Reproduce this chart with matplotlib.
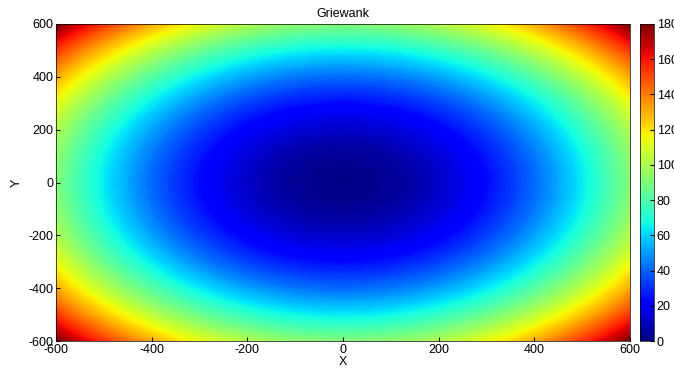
import numpy as np
import matplotlib
matplotlib.use("Agg")
import matplotlib.pyplot as plt

plt.rcParams['font.family'] = ['Liberation Sans', 'DejaVu Sans']
plt.rcParams['axes.unicode_minus'] = False

title = "Griewank"
x_label = "X"
y_label = "Y"
x_range = [-600, 600]
y_range = [-600, 600]
x_ticks = [-600, -400, -200, 0, 200, 400, 600]
y_ticks = [-600, -400, -200, 0, 200, 400, 600]
cbar_ticks = [0, 20, 40, 60, 80, 100, 120, 140, 160, 180]
n_grid = 601

xs = np.linspace(x_range[0], x_range[1], n_grid)
ys = np.linspace(y_range[0], y_range[1], n_grid)
X, Y = np.meshgrid(xs, ys)
Z = 1 + (X**2 + Y**2) / 4000.0 - np.cos(X / np.sqrt(1)) * np.cos(Y / np.sqrt(2))

fig = plt.figure(figsize=(6.74, 3.72), dpi=100)
ax = fig.add_axes([56/674, 1 - 341/372, (630-56)/674, (341-24)/372])
cax = fig.add_axes([640/674, 1 - 341/372, 14/674, (341-24)/372])

levels = np.linspace(0, 182, 120)
cf = ax.contourf(X, Y, Z, levels=levels, cmap='jet', vmin=0, vmax=180)
ax.set_xlim(x_range)
ax.set_ylim(y_range)
ax.set_xticks(x_ticks)
ax.set_yticks(y_ticks)
ax.tick_params(direction='in', labelsize=9, length=3, pad=2)
for s in ax.spines.values():
    s.set_linewidth(0.5)
ax.set_title(title, fontsize=9, pad=5)
ax.set_xlabel(x_label, fontsize=9, labelpad=0)
ax.set_ylabel(y_label, fontsize=9, labelpad=4)

sm = matplotlib.cm.ScalarMappable(norm=matplotlib.colors.Normalize(0, 180), cmap='jet')
cb = fig.colorbar(sm, cax=cax, ticks=cbar_ticks)
cb.ax.tick_params(direction='in', labelsize=9, length=3, pad=2)
cb.outline.set_linewidth(0.5)

fig.savefig("out.png", dpi=100)
